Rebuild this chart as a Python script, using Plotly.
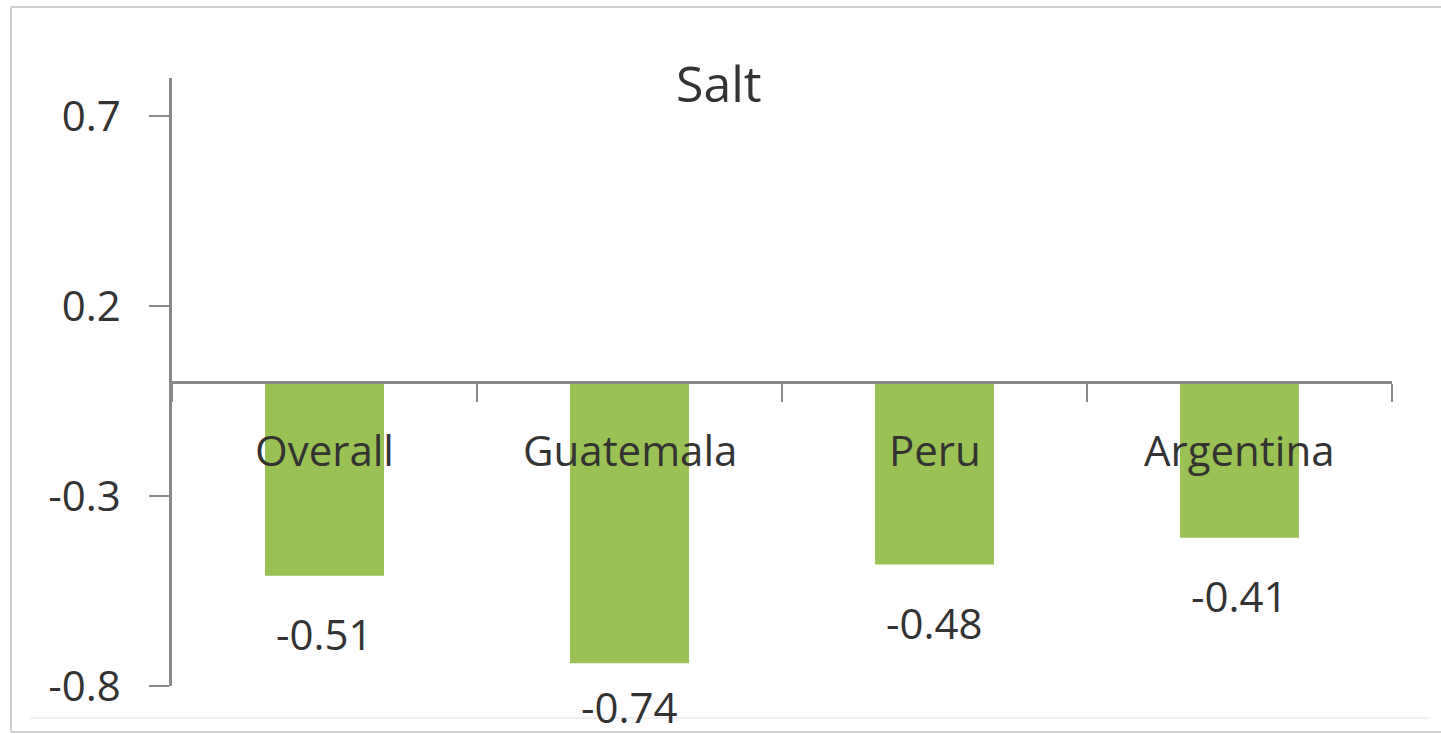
import plotly.graph_objects as go

# Chart data
categories = ["Overall", "Guatemala", "Peru", "Argentina"]
values = [-0.51, -0.74, -0.48, -0.41]
y_ticks = [-0.8, -0.3, 0.2, 0.7]
title_text = "Salt"

# Canvas and plot-area geometry (pixels)
W, H = 1441, 734
M_L, M_R, M_T, M_B = 172, 49, 78, 48
Y_MIN, Y_MAX = -0.8, 0.8
PLOT_W = W - M_L - M_R
PLOT_H = H - M_T - M_B

FONT = "Open Sans"
TEXT_COLOR = "#333333"
AXIS_COLOR = "#8a8a8a"
BAR_COLOR = "#99c153"
LABEL_SIZE = 42


def px_x(px):
    return (px - M_L) / PLOT_W


def px_y(py):
    return (H - M_B - py) / PLOT_H


fig = go.Figure()
fig.add_trace(go.Bar(
    x=categories,
    y=values,
    width=0.39,
    marker=dict(color=BAR_COLOR, line=dict(width=0)),
    hoverinfo="skip",
))

annotations = []
# Category names sit just below the zero line, over the bars
for cat in categories:
    annotations.append(dict(
        x=cat, y=0, xref="x", yref="y", text=cat, showarrow=False,
        yshift=-67, yanchor="middle",
        font=dict(family=FONT, size=LABEL_SIZE, color=TEXT_COLOR),
    ))

# Value labels below each bar end, kept inside the chart frame
px_per_unit = PLOT_H / (Y_MAX - Y_MIN)
for cat, v in zip(categories, values):
    end_px = (Y_MAX - v) * px_per_unit  # distance of bar end from plot top
    label_px = min(end_px + 58, PLOT_H + 20)
    annotations.append(dict(
        x=cat, y=v, xref="x", yref="y", text=f"{v:.2f}", showarrow=False,
        yshift=-(label_px - end_px), yanchor="middle",
        font=dict(family=FONT, size=LABEL_SIZE, color=TEXT_COLOR),
    ))

# Title
annotations.append(dict(
    x=px_x(719), y=px_y(83), xref="paper", yref="paper", text=title_text,
    showarrow=False, xanchor="center", yanchor="middle",
    font=dict(family=FONT, size=50, color=TEXT_COLOR),
))

frame = dict(color="#cfcfcf", width=2)
shapes = [
    # outer chart frame: left, top and bottom edges
    dict(type="line", xref="paper", yref="paper",
         x0=px_x(11), x1=px_x(11), y0=px_y(732), y1=px_y(7), line=frame, layer="below"),
    dict(type="line", xref="paper", yref="paper",
         x0=px_x(11), x1=px_x(W), y0=px_y(7), y1=px_y(7), line=frame, layer="below"),
    dict(type="line", xref="paper", yref="paper",
         x0=px_x(11), x1=px_x(W), y0=px_y(732), y1=px_y(732), line=frame, layer="below"),
    # faint inner baseline near the bottom edge
    dict(type="line", xref="paper", yref="paper",
         x0=px_x(30), x1=px_x(1430), y0=px_y(718), y1=px_y(718),
         line=dict(color="#ededed", width=1.5), layer="below"),
]

fig.update_layout(
    width=W, height=H,
    margin=dict(l=M_L, r=M_R, t=M_T, b=M_B, pad=0),
    paper_bgcolor="white",
    plot_bgcolor="white",
    showlegend=False,
    annotations=annotations,
    shapes=shapes,
    xaxis=dict(
        type="category",
        range=[-0.5, len(categories) - 0.5],
        anchor="free",
        position=(0 - Y_MIN) / (Y_MAX - Y_MIN),
        showline=True, linecolor=AXIS_COLOR, linewidth=2.5,
        ticks="outside", tickson="boundaries", ticklen=18, tickwidth=2,
        tickcolor=AXIS_COLOR,
        showticklabels=False, showgrid=False, zeroline=False,
        fixedrange=True,
    ),
    yaxis=dict(
        range=[Y_MIN, Y_MAX],
        tickvals=y_ticks,
        ticktext=[f"{t:.1f}" for t in y_ticks],
        showline=True, linecolor=AXIS_COLOR, linewidth=2.5,
        ticks="outside", ticklen=20, tickwidth=2, tickcolor=AXIS_COLOR,
        tickfont=dict(family=FONT, size=LABEL_SIZE, color=TEXT_COLOR),
        showgrid=False, zeroline=False,
        ticklabelstandoff=20,
        fixedrange=True,
    ),
)

# Keep the page from showing scrollbars around the fixed-size figure
fig.write_html(
    "out.html",
    config={"displayModeBar": False},
    post_script=(
        "document.documentElement.style.overflow='hidden';"
        "document.body.style.overflow='hidden';"
        "document.body.style.margin='0';"
    ),
)
